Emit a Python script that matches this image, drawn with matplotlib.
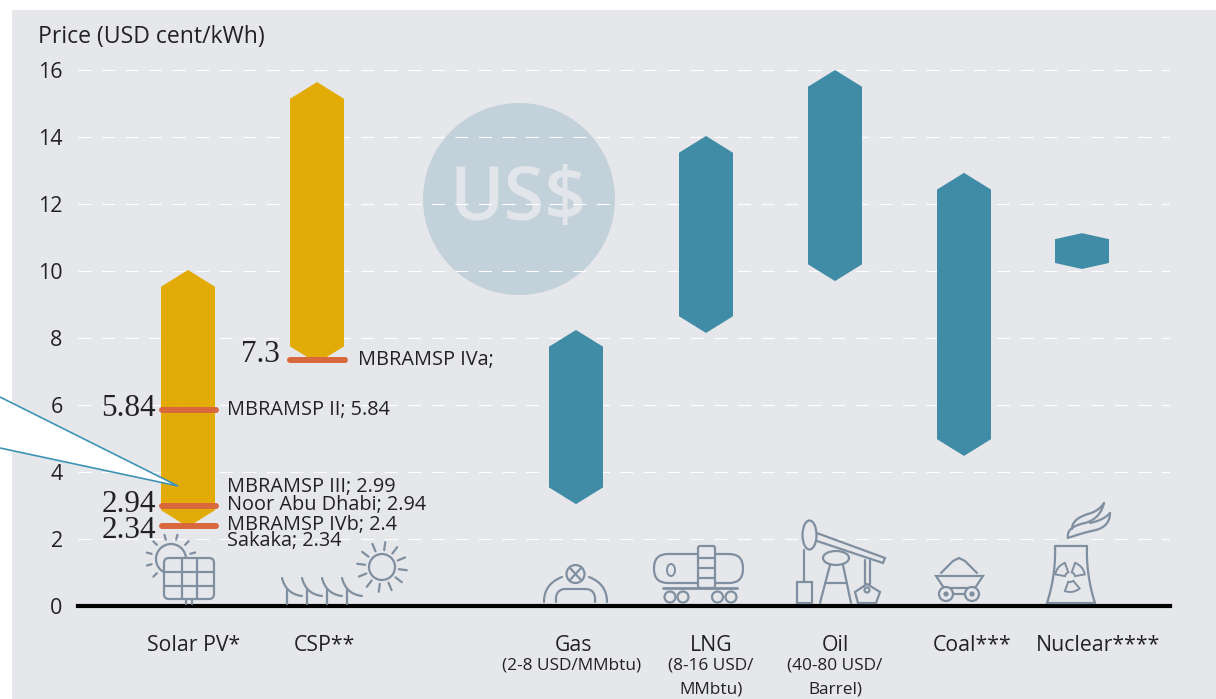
import numpy as np
import matplotlib
matplotlib.use('Agg')
import matplotlib.pyplot as plt
from matplotlib.patches import Polygon, Circle, Ellipse, Rectangle, FancyBboxPatch, Wedge

plt.rcParams['font.family'] = ['Open Sans', 'DejaVu Sans']

# price ranges, USD cent/kWh
techs = ['Solar PV', 'CSP', 'Gas', 'LNG', 'Oil', 'Coal', 'Nuclear']
low = [2.36, 7.25, 3.04, 8.15, 9.7, 4.48, 10.06]
high = [10.03, 15.64, 8.24, 14.03, 16.0, 12.93, 11.13]
tech_labels = ['Solar PV*', 'CSP**', 'Gas', 'LNG', 'Oil', 'Coal***', 'Nuclear****']
yticks = [0, 2, 4, 6, 8, 10, 12, 14, 16]

# auction results, marker heights
auction_values = [5.85, 2.98, 2.39, 7.34]
auction_text = ['5.84', '2.94', '2.34', '7.3']

GOLD = '#E2A900'
TEAL = '#3A88A3'
ORANGE = '#D9683C'
PANEL = '#E6E7EB'
ICON = '#7F8FA0'
TXT = '#222222'

W, H = 1216, 699
fig = plt.figure(figsize=(W / 100, H / 100), dpi=100, facecolor='white')

# pixel layer for panel, icons and free text
bg = fig.add_axes([0, 0, 1, 1], zorder=0)
bg.set_xlim(0, W)
bg.set_ylim(H, 0)
bg.axis('off')
bg.add_patch(Rectangle((12, 10), W - 12, H - 10, fc=PANEL, ec='none'))
bg.add_patch(Circle((519, 199), 96, fc='#C3D1DA', ec='none', zorder=3))
bg.text(518, 201, 'US$', fontsize=53, fontweight='semibold', color='#E2E6EB', ha='center', va='center', zorder=4)

# data layer, x is in pixels so the columns can sit where they do in the picture
ax = fig.add_axes([78 / W, 1 - 606 / H, (1170 - 78) / W, (606 - 70) / H], zorder=2)
ax.patch.set_alpha(0)
ax.set_xlim(78, 1170)
ax.set_ylim(0, 16)
for s in ['top', 'left', 'right']:
    ax.spines[s].set_visible(False)
ax.spines['bottom'].set_linewidth(3)
ax.spines['bottom'].set_color('black')
ax.set_yticks(yticks)
ax.tick_params(axis='y', length=0, labelsize=15.5, labelcolor=TXT, pad=11)
ax.yaxis.grid(True, color='white', lw=0.8, dashes=(11.7, 9.5))
ax.set_axisbelow(True)
ax.set_xticks([194, 324, 573, 711, 835, 972, 1098])
ax.set_xticklabels(tech_labels)
ax.tick_params(axis='x', length=0, labelsize=15.3, labelcolor=TXT, pad=21)

centers = [188, 317, 576, 706, 835, 964, 1082]
colors = [GOLD, GOLD, TEAL, TEAL, TEAL, TEAL, TEAL]
for i, t in enumerate(techs):
    c = centers[i]
    hw = 27
    sh = 0.18 if t == 'Nuclear' else 0.5
    pts = [(c, high[i]), (c + hw, high[i] - sh), (c + hw, low[i] + sh),
           (c, low[i]), (c - hw, low[i] + sh), (c - hw, high[i] - sh)]
    ax.add_patch(Polygon(pts, fc=colors[i], ec='none', alpha=0.97, zorder=3))

# auction markers
ax.hlines(auction_values[:3], 162, 216, color=ORANGE, lw=4.3, capstyle='round', zorder=4)
ax.hlines(auction_values[3], 290, 345, color=ORANGE, lw=4.3, capstyle='round', zorder=4)

# callout running off the left edge
top = fig.add_axes([0, 0, 1, 1], zorder=3)
top.set_xlim(0, W)
top.set_ylim(H, 0)
top.axis('off')
top.add_patch(Polygon([(0, 397), (178, 486), (0, 448)], closed=False, fc='white',
                      ec='#3E93B5', lw=1.2))

serif = ['Liberation Serif', 'DejaVu Serif']
for txt, x, y in zip(auction_text, [156, 156, 156, 280], [408, 505, 530, 354]):
    top.text(x, y, txt, family=serif, fontsize=22.5, color=TXT, ha='right', va='center')

note_labels = ['MBRAMSP II; 5.84', 'MBRAMSP III; 2.99', 'Noor Abu Dhabi; 2.94',
               'MBRAMSP IVb; 2.4', 'Sakaka; 2.34', 'MBRAMSP IVa;']
note_x = [227, 227, 227, 227, 227, 358]
note_y = [410, 487, 505, 525, 541, 360]
for txt, x, y in zip(note_labels, note_x, note_y):
    top.text(x, y, txt, fontsize=14.3, color=TXT, ha='left', va='center')

# commodity price notes under the labels
sub_labels = ['(2-8 USD/MMbtu)', '(8-16 USD/', 'MMbtu)', '(40-80 USD/', 'Barrel)']
sub_x = [572, 711, 711, 835, 835]
sub_y = [666, 666, 689, 666, 689]
for txt, x, y in zip(sub_labels, sub_x, sub_y):
    top.text(x, y, txt, fontsize=12.4, color=TXT, ha='center', va='center')

top.text(38, 37, 'Price (USD cent/kWh)', fontsize=16.6, color=TXT, ha='left', va='center')


def line(xs, ys, lw=1.6, z=5):
    top.plot(xs, ys, color=ICON, lw=lw, solid_capstyle='round', solid_joinstyle='round', zorder=z)


def curve(p0, p1, p2, lw=1.6):
    t = np.linspace(0, 1, 30)
    xs = (1 - t) ** 2 * p0[0] + 2 * t * (1 - t) * p1[0] + t ** 2 * p2[0]
    ys = (1 - t) ** 2 * p0[1] + 2 * t * (1 - t) * p1[1] + t ** 2 * p2[1]
    line(xs, ys, lw)


def ring(x, y, r, lw=1.6, fc='none', z=5):
    top.add_patch(Circle((x, y), r, fc=fc, ec=ICON, lw=lw, zorder=z))


def rays(x, y, r0, r1, n, start=0, z=2):
    for a in np.linspace(0, 2 * np.pi, n, endpoint=False) + start:
        line([x + r0 * np.cos(a), x + r1 * np.cos(a)], [y + r0 * np.sin(a), y + r1 * np.sin(a)], z=z)


# solar panel
ring(171, 559, 15, z=2)
rays(171, 559, 20, 25, 12, 0.26)
top.add_patch(FancyBboxPatch((164, 558), 50, 41, boxstyle='round,pad=0,rounding_size=5',
                             fc=PANEL, ec=ICON, lw=1.6, zorder=3))
line([182, 182], [558, 599])
line([197, 197], [558, 599])
line([164, 214], [572, 572])
line([164, 214], [586, 586])
line([186, 186], [599, 604])
line([192, 192], [599, 604])

# csp
ring(382, 567, 13)
rays(382, 567, 17, 25, 12, 0.13)
for x in [287, 307, 327, 347]:
    line([x, x], [590, 604])
    curve((x - 5, 578), (x - 1, 594), (x + 15, 596))

# gas valve
ring(575.5, 574, 9)
line([570, 581], [568, 580])
line([581, 570], [568, 580])
curve((544, 602), (544, 584), (562, 577))
curve((607, 602), (607, 584), (589, 577))
curve((556, 602), (555, 589), (566, 589))
curve((595, 602), (596, 589), (585, 589))
line([566, 585], [589, 589])

# lng wagon
top.add_patch(FancyBboxPatch((654, 554), 89, 29, boxstyle='round,pad=0,rounding_size=14',
                             fc='none', ec=ICON, lw=1.6, zorder=3))
top.add_patch(FancyBboxPatch((698, 546), 17, 42, boxstyle='round,pad=0,rounding_size=2',
                             fc=PANEL, ec=ICON, lw=1.6, zorder=3))
for y in [558, 568, 578]:
    line([698, 715], [y, y])
line([663, 737], [588, 588], 2)
for x in [670, 683, 717.5, 731]:
    ring(x, 597, 5.5)
top.add_patch(Ellipse((671, 570), 8, 12, fc='none', ec=ICON, lw=1.4))

# oil pump
line([804, 804], [550, 582])
top.add_patch(Polygon([(814, 532), (885, 558), (883, 563), (814, 540)], fc=PANEL, ec=ICON, lw=1.6, zorder=3))
top.add_patch(Ellipse((809.5, 535), 14, 29, fc=PANEL, ec=ICON, lw=1.6, zorder=4))
top.add_patch(Ellipse((836, 558), 26, 14, fc=PANEL, ec=ICON, lw=1.6, zorder=4))
line([830, 820], [565, 603])
line([843, 851], [565, 603])
line([825, 847], [583, 583])
top.add_patch(Rectangle((797, 582), 15, 21, fc='none', ec=ICON, lw=1.6))
line([865, 865], [560, 584])
line([870, 870], [560, 584])
top.add_patch(Polygon([(867, 584), (880, 592), (876, 603), (858, 603), (855, 592)],
                      fc='none', ec=ICON, lw=1.6))
ring(867, 590, 2.5)

# coal cart
line([941, 953, 959, 965, 977], [573, 561, 558, 561, 573])
top.add_patch(Polygon([(936, 576), (983, 576), (975, 588), (944, 588)], fc='none', ec=ICON, lw=1.6))
ring(946, 594, 7, fc=PANEL)
ring(972, 594, 7, fc=PANEL)
ring(946, 594, 1.5, fc=ICON)
ring(972, 594, 1.5, fc=ICON)
line([953, 965], [594, 594])

# nuclear plant
curve((1055, 546), (1056, 575), (1047, 603))
curve((1087, 546), (1086, 575), (1095, 603))
line([1055, 1087], [546, 546])
line([1047, 1095], [603, 603])
for a0 in [190, 290, 50]:
    top.add_patch(Wedge((1070, 577), 15, a0, a0 + 60, width=10, fc='none', ec=ICON, lw=1.4))
curve((1068, 538), (1066, 527), (1085, 523))
curve((1085, 523), (1100, 519), (1104, 503))
curve((1072, 529), (1072, 519), (1088, 514))
curve((1088, 514), (1099, 511), (1104, 503))
curve((1068, 538), (1082, 533), (1096, 530))
curve((1096, 530), (1110, 526), (1110, 513))
curve((1110, 513), (1104, 520), (1090, 523))

fig.savefig('out.png', dpi=100)
